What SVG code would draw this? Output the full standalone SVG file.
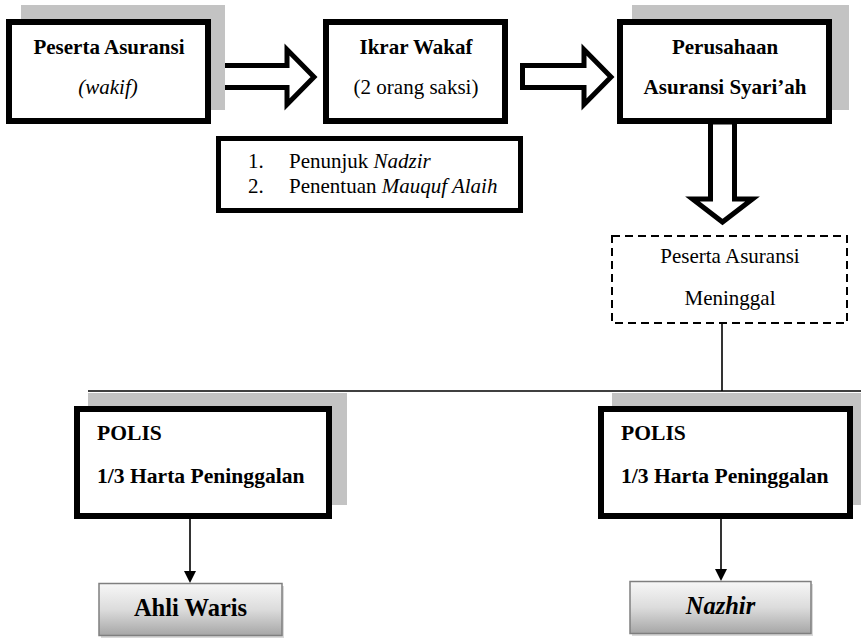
<svg xmlns="http://www.w3.org/2000/svg" width="861" height="638" viewBox="0 0 861 638">
<style>
  .shadow { fill: #c3c3c3; }
  .box { fill: #ffffff; stroke: #000000; stroke-width: 6; }
  .thin { fill: #ffffff; stroke: #000000; stroke-width: 5; }
  .dash { fill: #ffffff; stroke: #000000; stroke-width: 2; stroke-dasharray: 8 5; }
  .hollow { fill: #ffffff; stroke: #000000; stroke-width: 5; stroke-linejoin: miter; stroke-miterlimit: 10; }
  .line { fill: none; stroke: #000000; stroke-width: 1.6; }
  .grad { fill: url(#g); stroke: #7f7f7f; stroke-width: 1.5; }
  .gshadow { fill: #d9d9d9; }
  text { fill: #000000; }
  .b { font-weight: bold; font-size: 21px; }
  .bp { font-weight: bold; font-size: 21.6px; }
  .r { font-size: 21px; }
  .big { font-weight: bold; font-size: 24.5px; }
  .c { text-anchor: middle; }
</style>
<defs>
  <linearGradient id="g" x1="0" y1="0" x2="0" y2="1">
    <stop offset="0" stop-color="#f7f7f7"/>
    <stop offset="0.5" stop-color="#dcdcdc"/>
    <stop offset="1" stop-color="#a6a6a6"/>
  </linearGradient>
</defs>

<g id="connectors">
  <path class="hollow" d="M220.5,65.5 H287 V49.5 L314,77 L287,104.5 V87.5 H220.5 Z"/>
  <path class="hollow" d="M522.5,65.5 H584 V49.5 L611,77 L584,104.5 V87.5 H522.5 Z"/>
  <path class="line" d="M722,323 V391"/>
  <path class="line" d="M88,391 H861"/>
  <path class="line" d="M190,519 V571"/>
  <path class="line" d="M721,519 V569"/>
  <path d="M184,571 L196,571 L190,583 Z" fill="#000000"/>
  <path d="M715,569 L727,569 L721,581 Z" fill="#000000"/>
</g>

<g font-family="'Liberation Serif', 'Times New Roman', serif">
<g id="node-peserta">
  <rect class="shadow" x="21" y="5" width="204" height="105"/>
  <rect class="box" x="9" y="22" width="199" height="99"/>
  <text class="b c" x="109" y="54">Peserta Asuransi</text>
  <text class="r c" x="108" y="94" font-style="italic">(wakif)</text>
</g>

<g id="node-ikrar">
  <rect class="box" x="326" y="22" width="179" height="99"/>
  <text class="b c" x="416" y="54">Ikrar Wakaf</text>
  <text class="r c" x="416" y="94">(2 orang saksi)</text>
</g>

<g id="node-perusahaan">
  <rect class="shadow" x="632" y="5" width="217" height="105"/>
  <rect class="box" x="620" y="22" width="209" height="99"/>
  <text class="b c" x="725" y="54">Perusahaan</text>
  <text class="b c" x="725" y="94">Asuransi Syari’ah</text>
</g>

<g id="down-arrow">
  <path class="hollow" d="M710.5,122 V199 H692.5 L722.5,222 L752.5,199 H734.5 V122 Z"/>
</g>

<g id="node-list">
  <rect class="thin" x="218.5" y="138.5" width="302" height="72"/>
  <text class="r" x="248" y="168">1.</text>
  <text class="r" x="289" y="168">Penunjuk <tspan font-style="italic">Nadzir</tspan></text>
  <text class="r" x="248" y="193">2.</text>
  <text class="r" x="289" y="193">Penentuan <tspan font-style="italic">Mauquf Alaih</tspan></text>
</g>

<g id="node-meninggal">
  <rect class="dash" x="612" y="236" width="235" height="87"/>
  <text class="r c" x="730" y="263">Peserta Asuransi</text>
  <text class="r c" x="730" y="305">Meninggal</text>
</g>

<g id="node-polis-left">
  <rect class="shadow" x="88" y="393" width="259" height="112"/>
  <rect class="box" x="77" y="409" width="252" height="107"/>
  <text class="bp" x="97" y="440">POLIS</text>
  <text class="bp" x="97" y="483">1/3 Harta Peninggalan</text>
</g>

<g id="node-polis-right">
  <rect class="shadow" x="612" y="393" width="249" height="112"/>
  <rect class="box" x="601" y="409" width="249" height="107"/>
  <text class="bp" x="621" y="440">POLIS</text>
  <text class="bp" x="621" y="483">1/3 Harta Peninggalan</text>
</g>

<g id="node-ahliwaris">
  <rect class="gshadow" x="101" y="586" width="183" height="52"/>
  <rect class="grad" x="99" y="583.5" width="183" height="52"/>
  <text class="big c" x="190.5" y="616">Ahli Waris</text>
</g>

<g id="node-nazhir">
  <rect class="gshadow" x="632" y="584" width="181" height="52"/>
  <rect class="grad" x="630" y="581.5" width="181" height="52"/>
  <text class="big c" x="720.5" y="614" font-style="italic">Nazhir</text>
</g>
</g>
</svg>
